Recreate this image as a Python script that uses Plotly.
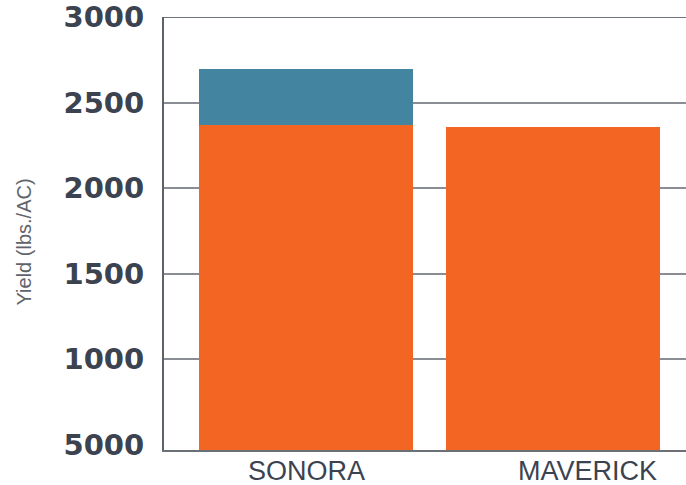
import plotly.graph_objects as go

varieties = ["SONORA", "MAVERICK"]
base_yield = [2370, 2357]
extra_yield = [326, 0]
tick_vals = [500, 1000, 1500, 2000, 2500, 3000]
tick_text = ["5000", "1000", "1500", "2000", "2500", "3000"]
grid_vals = [1000, 1500, 2000, 2500, 3000]
y_range = [470, 3000.01]

FONT = "Liberation Sans, Arial, sans-serif"

fig = go.Figure()
fig.add_trace(go.Bar(x=varieties, y=base_yield, marker=dict(color="#F26522", line=dict(width=0)),
                     width=0.866, showlegend=False, hoverinfo="x+y"))
fig.add_trace(go.Bar(x=varieties, y=extra_yield, marker=dict(color="#4384A0", line=dict(width=0)),
                     width=0.866, showlegend=False, hoverinfo="x+y"))
# invisible trace to activate gridline axis
fig.add_trace(go.Scatter(x=varieties, y=[None, None], yaxis="y2", showlegend=False, hoverinfo="skip"))

fig.update_layout(
    barmode="stack",
    width=686, height=485,
    margin=dict(l=164, r=0, t=17, b=35),
    paper_bgcolor="white", plot_bgcolor="white",
    xaxis=dict(
        type="category", range=[-0.575, 1.538],
        showgrid=False, showline=True, linecolor="#6b6f76", linewidth=2,
        showticklabels=False, ticks="", zeroline=False,
    ),
    yaxis=dict(
        range=y_range, tickvals=tick_vals, ticktext=tick_text,
        showgrid=False, zeroline=False, showline=True, linecolor="#5d6168", linewidth=2,
        ticks="", ticklabelstandoff=12, ticklabeloverflow="allow",
        tickfont=dict(family="DejaVu Sans, sans-serif", size=29, color="#3b4350", weight="bold"),
        automargin=False,
    ),
    yaxis2=dict(
        range=y_range, overlaying="y", tickvals=grid_vals, showticklabels=False,
        showgrid=True, gridcolor="#8a8d93", gridwidth=2, zeroline=False, showline=False, ticks="",
    ),
    shapes=[dict(type="line", xref="paper", yref="y2", x0=0, x1=1, y0=grid_vals[-1], y1=grid_vals[-1],
                 line=dict(color="#6f737a", width=2), layer="below")],
)

label_shift = [0, 34]
for name, sh in zip(varieties, label_shift):
    fig.add_annotation(x=name, y=0, xref="x", yref="paper", yanchor="middle", yshift=-21, xshift=sh,
                       text=name, showarrow=False,
                       font=dict(family=FONT, size=27, color="#3b4350"))

fig.add_annotation(x=0, xref="paper", xshift=-141, y=0.5, yref="paper", yshift=-9,
                   xanchor="center", yanchor="middle", textangle=-90,
                   text="Yield (lbs./AC)", showarrow=False,
                   font=dict(family=FONT, size=20, color="#5f646a"))

fig.write_html("out.html", config={"displayModeBar": False},
               post_script="document.body.style.margin='0';document.body.style.overflow='hidden';")
